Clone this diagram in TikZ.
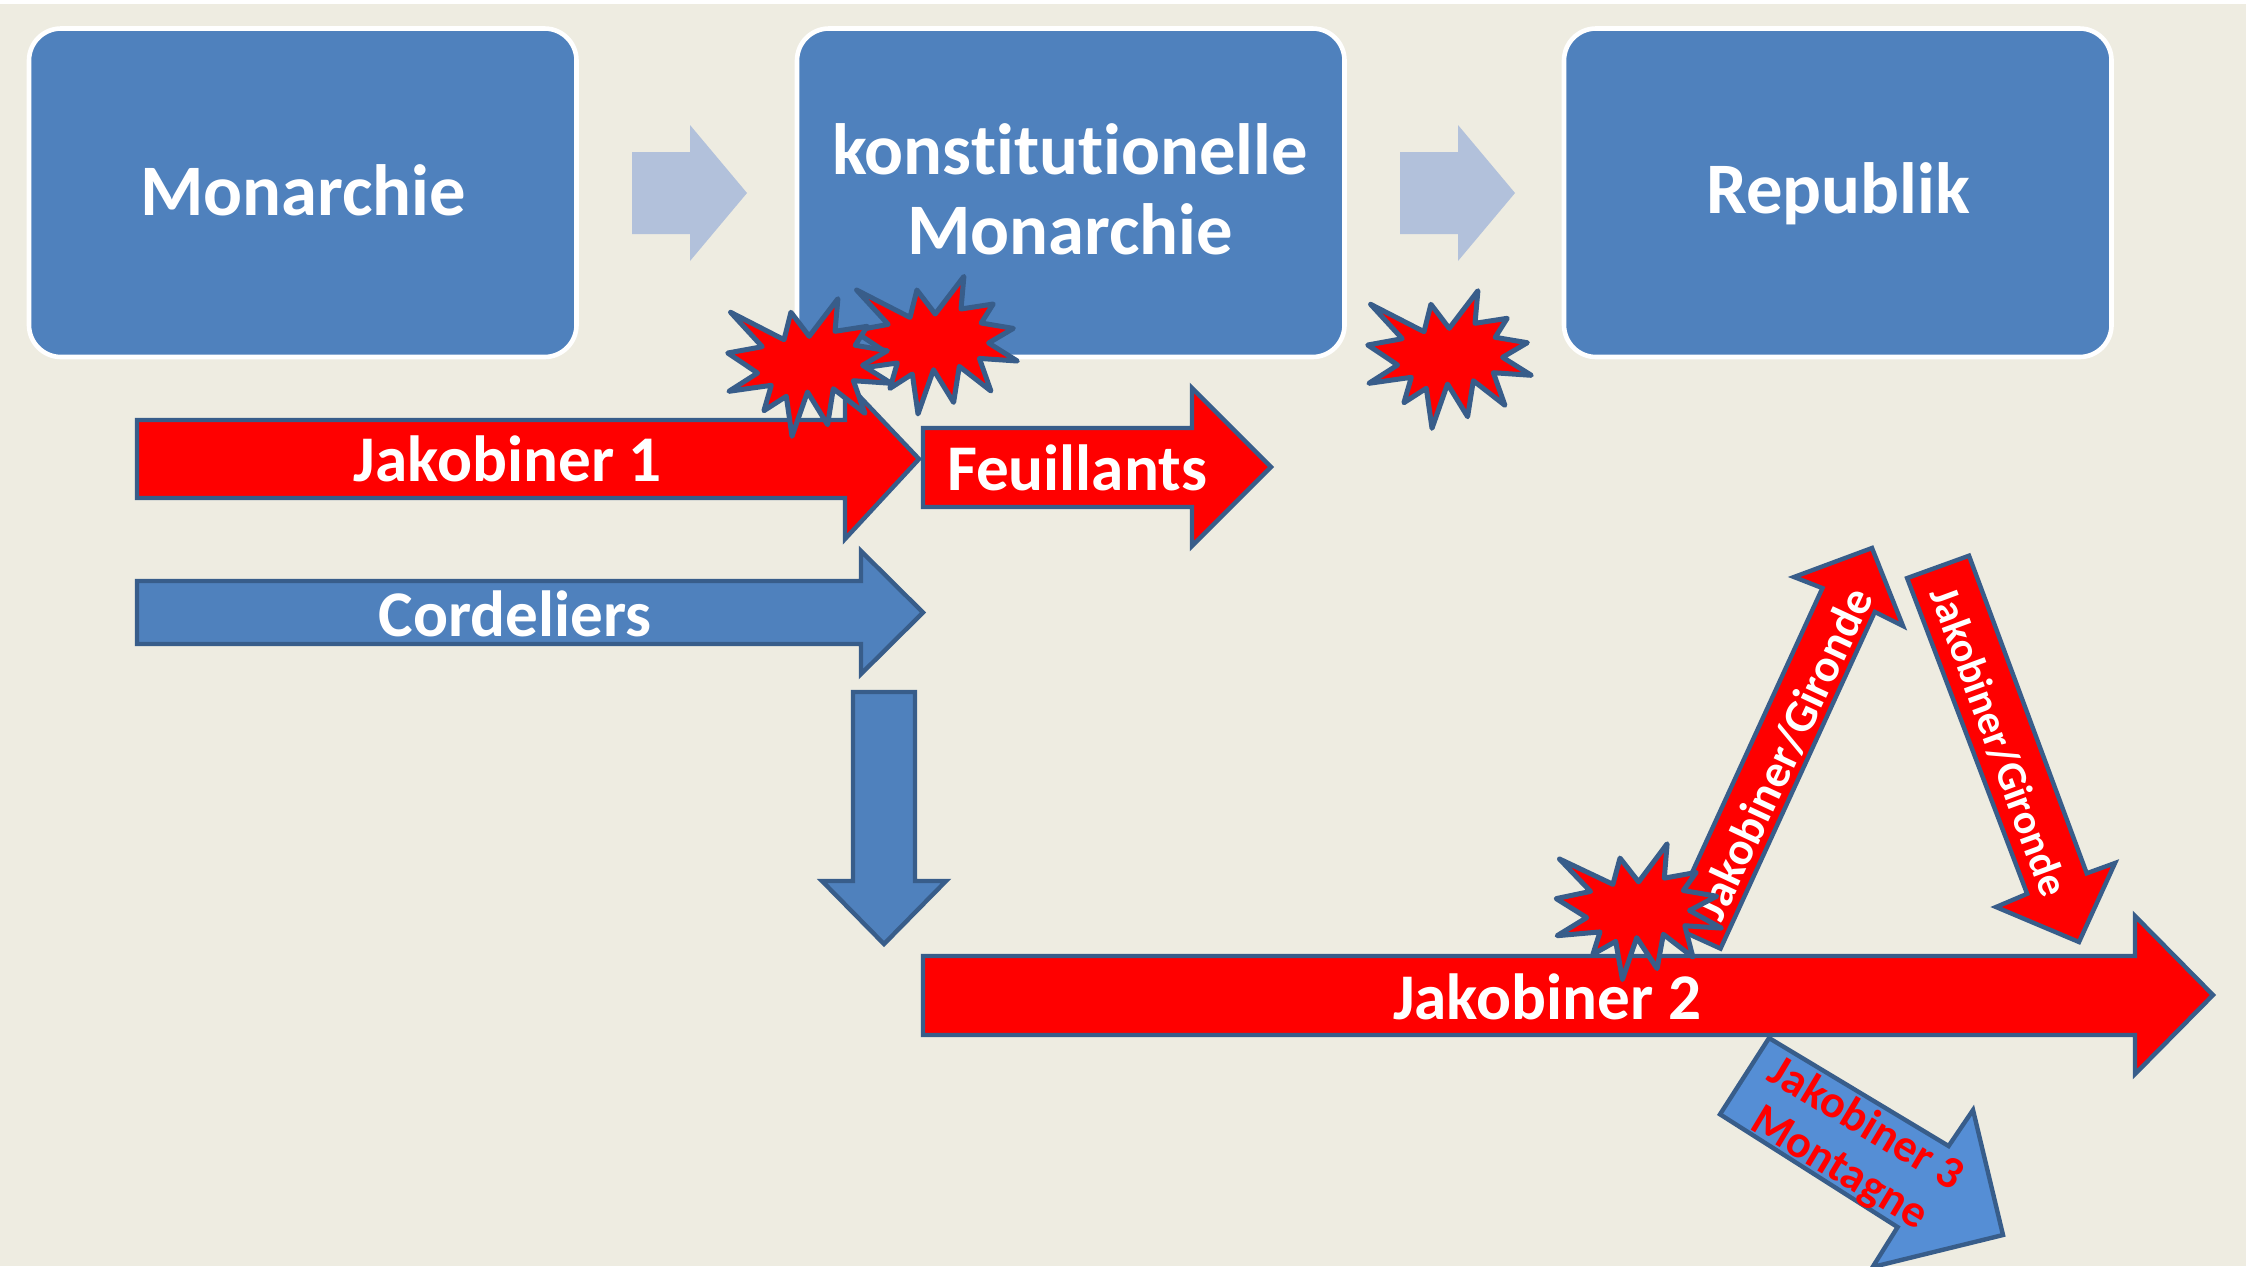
\documentclass[tikz,border=0pt]{standalone}
\usepackage{fontspec}
\setmainfont{Carlito}[Ligatures=NoCommon]
\definecolor{bgc}{HTML}{EEECE1}
\definecolor{boxc}{HTML}{4F81BD}
\definecolor{edgec}{HTML}{385D8A}
\definecolor{lightc}{HTML}{B2C1DB}
\definecolor{montc}{HTML}{558ED5}
\tikzset{
  boxshape/.style={rounded corners=16pt,fill=boxc,draw=white,line width=2.3pt},
  boxtext/.style={text=white,font=\bfseries\fontsize{36.3}{40}\selectfont,align=center,inner sep=0pt},
  redarrow/.style={fill=red,draw=edgec,line width=2.2pt,miter limit=10},
  bluearrow/.style={fill=boxc,draw=edgec,line width=2.2pt,miter limit=10},
  montarrow/.style={fill=montc,draw=edgec,line width=2.2pt,miter limit=10},
  lightarrow/.style={fill=lightc,draw=none},
  burst/.style={fill=red,draw=edgec,line width=2.5pt,line join=round},
  arrowtext/.style={text=white,font=\bfseries\fontsize{32.6}{38}\selectfont,inner sep=0pt},
}
\newcommand{\burstpath}{(1370.6,304.3) -- (1424,331.7) -- (1430.9,304.3) -- (1449.2,328.3) -- (1477.9,290.7) -- (1475,323.3) -- (1507.2,318.3) -- (1495.2,337.3) -- (1527.3,342.7) -- (1502.6,357.3) -- (1531.3,375.3) -- (1493.4,372.7) -- (1504.9,405.3) -- (1473.3,380.7) -- (1467.6,416.7) -- (1447.5,384) -- (1432,428.3) -- (1426.3,388.3) -- (1403.9,402.7) -- (1411.3,377.3) -- (1368.9,383.3) -- (1397.6,365) -- (1367.7,345) -- (1402.2,338.7) -- cycle}
\begin{document}
\begin{tikzpicture}[x=0.5pt,y=-0.5pt]
\useasboundingbox (0,0) rectangle (2246,1270);
\fill[white] (0,0) rectangle (2246,1270);
\fill[bgc] (0,4) rectangle (2246,1266);
\begin{scope}
\clip (0,4) rectangle (2246,1266);
% boxes
\draw[boxshape] (29,28.5) rectangle (576.5,357);
\draw[boxshape] (797,28.5) rectangle (1344.5,357);
\draw[boxshape] (1564,28.5) rectangle (2111.5,357);
\node[boxtext] (mon) at (303,190) {Monarchie};
\node[boxtext] (kon) at (1070,189.5) {konstitutionelle\\Monarchie};
\node[boxtext] (rep) at (1838,194) {Republik};
% light arrows
\fill[lightarrow] (632,152) -- (690,152) -- (690,125) -- (747,193) -- (690,261) -- (690,234) -- (632,234) -- cycle;
\fill[lightarrow] (1400,152) -- (1458,152) -- (1458,125) -- (1515,193) -- (1458,261) -- (1458,234) -- (1400,234) -- cycle;
% Jakobiner 1
\draw[redarrow] (137,420) -- (845,420) -- (845,381) -- (919,459) -- (845,539) -- (845,498) -- (137,498) -- cycle;
\node[arrowtext] (j1) at (508,459) {Jakobiner 1};
% bursts top
\draw[burst,xshift=-257pt,yshift=7.15pt] \burstpath;
\draw[burst,xshift=-320pt,yshift=-4pt] \burstpath;
\draw[burst] \burstpath;
% Feuillants
\draw[redarrow] (923,428) -- (1192,428) -- (1192,388) -- (1271,467) -- (1192,546) -- (1192,507) -- (923,507) -- cycle;
\node[arrowtext] (feu) at (1077,468) {Feuillants};
% Cordeliers
\draw[bluearrow] (137,581) -- (861,581) -- (861,551) -- (923,612.5) -- (861,674) -- (861,644) -- (137,644) -- cycle;
\node[arrowtext] (cor) at (515,614) {Cordeliers};
% down
\draw[bluearrow] (853,692) -- (915,692) -- (915,881) -- (946,881) -- (884,944) -- (822,881) -- (853,881) -- cycle;
% Montagne
\draw[montarrow] (1769,1038) -- (1948.6,1146) -- (1973,1110) -- (2003,1235) -- (1872.6,1267) -- (1897.6,1227.1) -- (1720,1114.3) -- cycle;
\node[text=red,font=\bfseries\fontsize{23}{25.5}\selectfont,align=center,inner sep=0pt,rotate=-31] (mt) at (1852,1147) {Jakobiner 3\\Montagne};
% up
\draw[redarrow] (1794,577) -- (1872,548) -- (1903,626) -- (1874.8,611.9) -- (1720.5,948.6) -- (1668.1,924.8) -- (1822.4,588.1) -- cycle;
\node[text=white,font=\bfseries\fontsize{23.2}{28}\selectfont,inner sep=0pt,rotate=65] (up) at (1784,754) {Jakobiner/Gironde};
% down red
\draw[redarrow] (1907.1,578.1) -- (1969,555.7) -- (2086.7,873.3) -- (2115,863) -- (2079,942) -- (1996,907) -- (2027.1,893.8) -- cycle;
\node[text=white,font=\bfseries\fontsize{21}{25}\selectfont,inner sep=0pt,rotate=-69.7] (dn) at (1999,742) {Jakobiner/Gironde};
% Jakobiner 2
\draw[redarrow] (923,956) -- (2135,956) -- (2135,916) -- (2213,995) -- (2135,1074) -- (2135,1035) -- (923,1035) -- cycle;
\node[arrowtext] (j2) at (1547,997) {Jakobiner 2};
% burst low
\draw[burst] (1559.5,859) -- (1612.9,884.3) -- (1620,858.1) -- (1638.6,881.9) -- (1667.1,843.8) -- (1664.3,878.1) -- (1696.2,872.4) -- (1683.3,890.5) -- (1716.7,896.2) -- (1689.5,910.5) -- (1721.4,928.1) -- (1684.8,925.7) -- (1692.9,957.1) -- (1663.3,934.3) -- (1657.1,968.6) -- (1636.7,937.6) -- (1622.4,979.5) -- (1615.7,941.4) -- (1592.9,954.3) -- (1600,931.9) -- (1557.1,935.7) -- (1586.7,917.6) -- (1556.2,898.6) -- (1590.5,891.4) -- cycle;
\end{scope}
\end{tikzpicture}
\end{document}
